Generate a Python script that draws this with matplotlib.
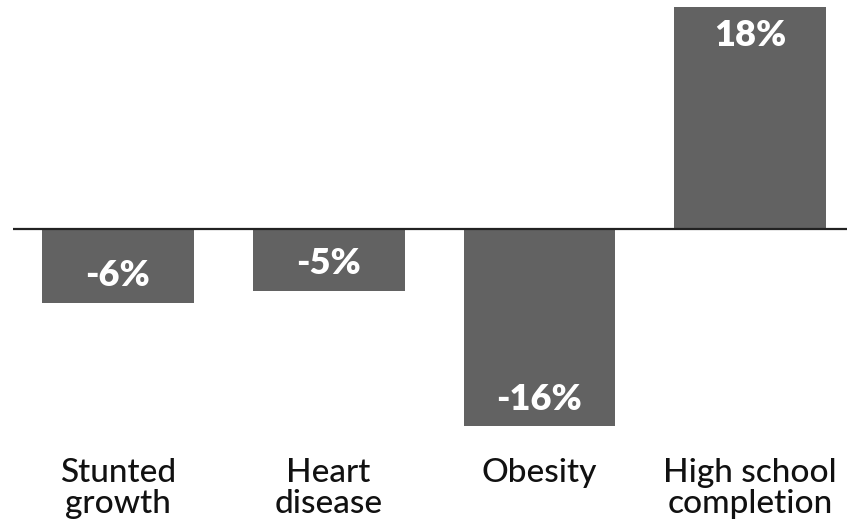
import matplotlib
matplotlib.use('Agg')
import matplotlib.pyplot as plt

categories = ['Stunted\ngrowth', 'Heart\ndisease', 'Obesity', 'High school\ncompletion']
changes = [-6, -5, -16, 18]
value_labels = ['-6%', '-5%', '-16%', '18%']

bar_color = '#626262'

fig = plt.figure(figsize=(8.47, 5.25), dpi=100)
ax = fig.add_axes([0, 0, 1, 1])
ax.set_xlim(-0.56, 3.46)
ax.set_ylim(-24.0, 18.57)
ax.axis('off')

xs = range(len(categories))
ax.bar(xs, changes, width=0.72, color=bar_color, zorder=1)
ax.hlines(0, -0.5, 3.46, color='#222222', linewidth=1.6, zorder=2)

for x, v, lab in zip(xs, changes, value_labels):
    # label sits inside the bar, just in from its far end
    y = v - 2.3 if v > 0 else v + 2.2
    ax.text(x, y, lab, ha='center', va='center', color='white',
            fontsize=26, fontweight='heavy', family=['Lato', 'DejaVu Sans'])

for x, cat in zip(xs, categories):
    for i, line in enumerate(cat.split('\n')):
        ax.text(x, -20.5 - 2.55 * i, line, ha='center', va='baseline',
                color='#111111', fontsize=24, fontweight='medium',
                family=['Lato', 'DejaVu Sans'])

fig.savefig('out.png', dpi=100)
